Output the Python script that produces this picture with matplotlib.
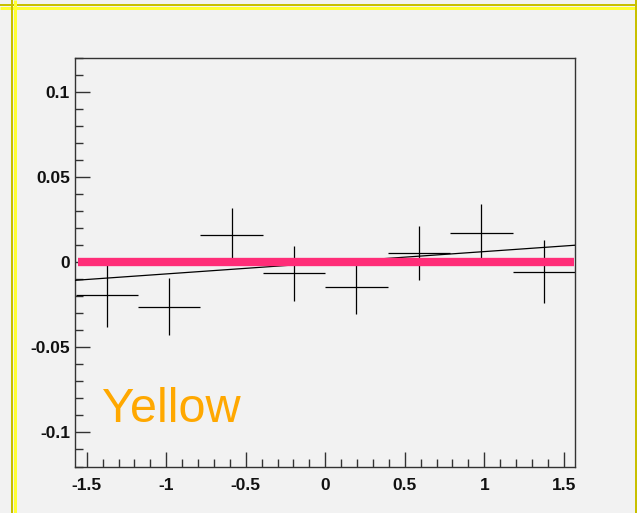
import numpy as np
import matplotlib
matplotlib.use('Agg')
import matplotlib.pyplot as plt
from matplotlib.lines import Line2D
from matplotlib.ticker import MultipleLocator

plt.rcParams['font.family'] = ['Liberation Sans', 'DejaVu Sans']
plt.rcParams['axes.unicode_minus'] = False

# Data
bin_centers = [-1.374, -0.982, -0.589, -0.196, 0.196, 0.589, 0.982, 1.374]
bin_half_width = 0.196
values = [-0.019, -0.026, 0.016, -0.0065, -0.0145, 0.0055, 0.017, -0.0055]
errors = [0.019, 0.017, 0.0156, 0.016, 0.0157, 0.016, 0.017, 0.0185]

fit_x = [-1.571, 1.571]
fit_y = [-0.0106, 0.0100]

ref_x = [-1.555, 1.565]
ref_y = [0.0, 0.0]

label_text = 'Yellow'

bg = '#f2f2f2'
fig = plt.figure(figsize=(6.37, 5.13), dpi=100, facecolor=bg)
ax = fig.add_axes([0.1185, 0.0906, 0.7842, 0.7964], facecolor=bg)

# histogram points with errors
ax.errorbar(bin_centers, values, xerr=bin_half_width, yerr=errors,
            fmt='none', ecolor='black', elinewidth=0.9, capsize=0, zorder=2)
# fitted line
ax.plot(fit_x, fit_y, color='black', lw=0.9, zorder=3)
# reference line at zero
ax.plot(ref_x, ref_y, color='#ff2d78', lw=6, solid_capstyle='butt', zorder=4)

ax.text(-1.4025, -0.094, label_text, color='#ffa800', fontsize=35,
        va='baseline', ha='left')

ax.set_xlim(-np.pi / 2, np.pi / 2)
ax.set_ylim(-0.12, 0.12)

ax.xaxis.set_major_locator(MultipleLocator(0.5))
ax.xaxis.set_minor_locator(MultipleLocator(0.1))
ax.yaxis.set_major_locator(MultipleLocator(0.05))
ax.yaxis.set_minor_locator(MultipleLocator(0.01))
ax.set_xticks([-1.5, -1, -0.5, 0, 0.5, 1, 1.5])
ax.set_xticklabels(['-1.5', '-1', '-0.5', '0', '0.5', '1', '1.5'])
ax.set_yticks([-0.1, -0.05, 0, 0.05, 0.1])
ax.set_yticklabels(['-0.1', '-0.05', '0', '0.05', '0.1'])

ax.tick_params(which='both', direction='in', top=False, right=False,
               color='#333333', width=1)
ax.tick_params(which='major', length=11)
ax.tick_params(which='minor', length=6)
ax.tick_params(axis='x', pad=8)
ax.tick_params(axis='y', pad=4)
for lab in ax.get_xticklabels() + ax.get_yticklabels():
    lab.set_fontweight('bold')
    lab.set_fontsize(12.5)
    lab.set_color('#111111')
for sp in ax.spines.values():
    sp.set_color('#333333')
    sp.set_linewidth(1)

# yellow canvas frame
W, H = 637.0, 513.0
def fline(x0, y0, x1, y1, color, lw_px):
    fig.add_artist(Line2D([x0 / W, x1 / W], [1 - y0 / H, 1 - y1 / H],
                          color=color, lw=lw_px * 0.72, transform=fig.transFigure,
                          solid_capstyle='butt'))

fline(0, 5.0, W, 5.0, '#c8c000', 2)
fline(0, 7.5, W, 7.5, '#ffff33', 3)
fline(12, 0, 12, H, '#c8c000', 2)
fline(14.5, 0, 14.5, H, '#ffff33', 3)
fline(635.5, 0, 635.5, H, '#c8c000', 2)

fig.savefig('out.png', dpi=100, facecolor=bg)
